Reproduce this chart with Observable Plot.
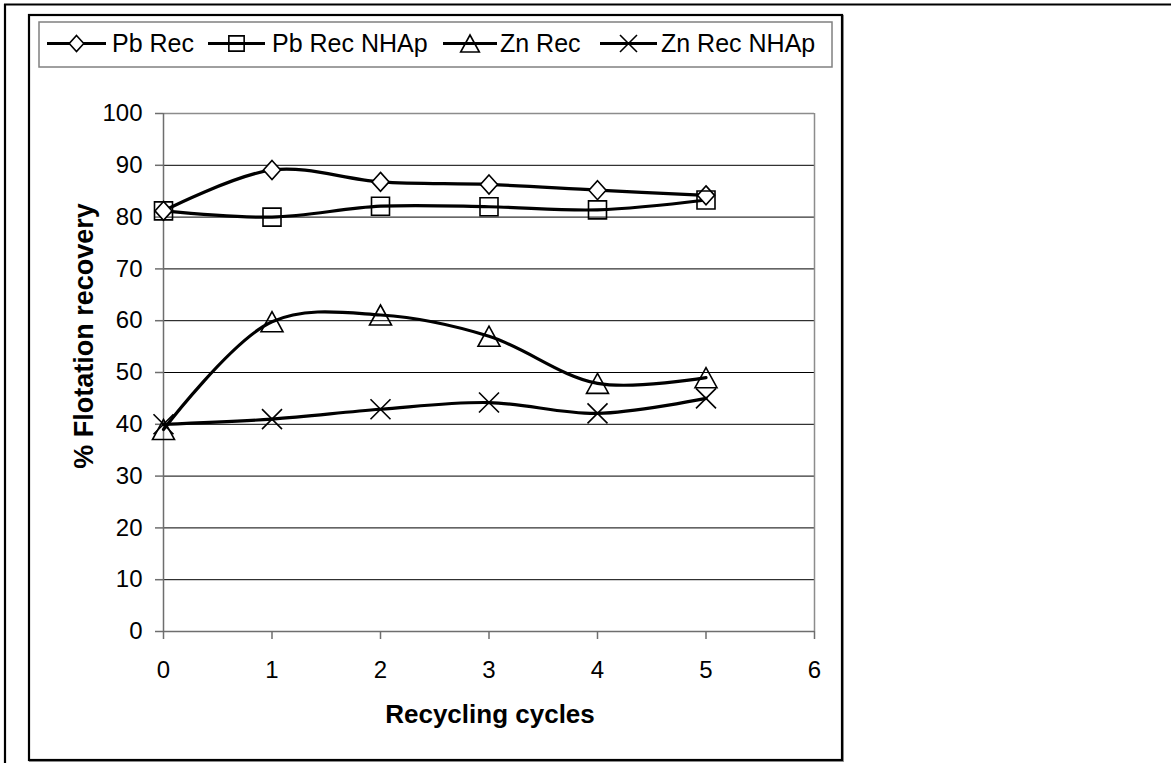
<!DOCTYPE html>
<html>
<head>
<meta charset="utf-8">
<script src="https://cdn.jsdelivr.net/npm/d3@7"></script>
<script src="https://cdn.jsdelivr.net/npm/@observablehq/plot@0.6"></script>
<style>
  body { margin: 0; background: #fff; }
  #chart { position: relative; width: 1176px; height: 763px; }
  #chart svg { display: block; }
</style>
</head>
<body>
<div id="chart"></div>
<script>
// ---- data ----
const cycles = [0, 1, 2, 3, 4, 5];
const pbRec = [81.2, 89.1, 86.8, 86.3, 85.2, 84.2];
const pbRecNHAp = [81.2, 80.0, 82.1, 82.0, 81.4, 83.3];
const znRec = [39.0, 59.8, 61.1, 57.0, 47.9, 49.0];
const znRecNHAp = [40.0, 41.0, 42.9, 44.2, 42.1, 45.0];
const seriesNames = ["Pb Rec", "Pb Rec NHAp", "Zn Rec", "Zn Rec NHAp"];
const xTicks = [0, 1, 2, 3, 4, 5, 6];
const yTicks = [0, 10, 20, 30, 40, 50, 60, 70, 80, 90, 100];
const gridTicks = [10, 20, 30, 40, 50, 60, 70, 80, 90];
const xTitle = "Recycling cycles";
const yTitle = "% Flotation recovery";

(function () {
const seriesValues = [pbRec, pbRecNHAp, znRec, znRecNHAp];
const rows = seriesNames.flatMap((name, s) =>
  cycles.map((c, i) => ({series: name, x: c, y: seriesValues[s][i]})));

// ---- custom marker symbols (size = pi r^2) ----
const rOf = size => Math.sqrt(size / Math.PI);
const diamondSym = {draw(ctx, size) { const r = rOf(size);
  ctx.moveTo(0, -r); ctx.lineTo(r * 0.9, 0); ctx.lineTo(0, r); ctx.lineTo(-r * 0.9, 0); ctx.closePath(); }};
const squareSym = {draw(ctx, size) { const r = rOf(size);
  ctx.moveTo(-r, -r); ctx.lineTo(r, -r); ctx.lineTo(r, r); ctx.lineTo(-r, r); ctx.closePath(); }};
const triangleSym = {draw(ctx, size) { const r = rOf(size); const h = r * 0.91;
  ctx.moveTo(0, -h); ctx.lineTo(r, h); ctx.lineTo(-r, h); ctx.closePath(); }};
const crossSym = {draw(ctx, size) { const r = rOf(size);
  ctx.moveTo(-r, -r); ctx.lineTo(r, r); ctx.moveTo(r, -r); ctx.lineTo(-r, r); }};

const markerStyle = {
  "Pb Rec": {symbol: diamondSym, r: 9.5, fill: "white"},
  "Pb Rec NHAp": {symbol: squareSym, r: 9, fill: "none"},
  "Zn Rec": {symbol: triangleSym, r: 11, fill: "none"},
  "Zn Rec NHAp": {symbol: crossSym, r: 10, fill: "none"}
};

const font = "'Liberation Sans', Arial, Helvetica, sans-serif";

const marks = [
  Plot.gridY(gridTicks, {stroke: "black", strokeOpacity: 1, strokeWidth: 1}),
  Plot.ruleY([100], {stroke: "#8c8c8c", strokeWidth: 1.5}),
  Plot.ruleX([6], {stroke: "#8c8c8c", strokeWidth: 1.5}),
  Plot.ruleY([0], {stroke: "#6e6e6e", strokeWidth: 1.5}),
  Plot.ruleX([0], {stroke: "#6e6e6e", strokeWidth: 1.5}),
  Plot.axisY({ticks: yTicks, tickSize: 8, tickPadding: 13, stroke: "#6e6e6e", strokeWidth: 1.5, fill: "black", label: null, tickFormat: d => String(d)}),
  Plot.axisX({ticks: xTicks, tickSize: 8, tickPadding: 21, stroke: "#6e6e6e", strokeWidth: 1.5, fill: "black", label: null, tickFormat: d => String(d)})
];
for (const name of seriesNames) {
  const data = rows.filter(d => d.series === name);
  marks.push(Plot.line(data, {x: "x", y: "y", curve: "catmull-rom", stroke: "black", strokeWidth: 3.2, strokeLinejoin: "round", strokeLinecap: "round"}));
}
for (const name of seriesNames) {
  const data = rows.filter(d => d.series === name);
  const m = markerStyle[name];
  marks.push(Plot.dot(data, {x: "x", y: "y", symbol: m.symbol, r: m.r, fill: m.fill, stroke: "black", strokeWidth: 1.6}));
}

const chart = Plot.plot({
  width: 1176,
  height: 763,
  marginLeft: 163,
  marginRight: 362,
  marginTop: 113,
  marginBottom: 132,
  x: {domain: [0, 6]},
  y: {domain: [0, 100]},
  style: {fontFamily: font, fontSize: "24px", color: "black", background: "white", overflow: "visible"},
  marks
});

document.getElementById("chart").appendChild(chart);

// ---- decorations: frames, titles, legend ----
const svg = d3.select(chart);
const deco = svg.insert("g", ":first-child");
deco.append("line").attr("x1", 4).attr("x2", 1171).attr("y1", 4.5).attr("y2", 4.5).attr("stroke", "black").attr("stroke-width", 2.2);
deco.append("line").attr("x1", 5).attr("x2", 5).attr("y1", 4).attr("y2", 763).attr("stroke", "black").attr("stroke-width", 2.2);
deco.append("rect").attr("x", 30).attr("y", 16).attr("width", 813).attr("height", 745).attr("fill", "none").attr("stroke", "#999").attr("stroke-width", 2);
deco.append("rect").attr("x", 29).attr("y", 15).attr("width", 813).attr("height", 745).attr("fill", "white").attr("stroke", "black").attr("stroke-width", 2.2);

const titles = svg.append("g").attr("font-family", font).attr("fill", "black");
titles.append("text").attr("x", 490).attr("y", 723).attr("text-anchor", "middle")
  .attr("font-size", 26).attr("font-weight", "bold").text(xTitle);
titles.append("text").attr("transform", "translate(86,336) rotate(-90)").attr("text-anchor", "middle")
  .attr("dominant-baseline", "middle").attr("font-size", 27).attr("font-weight", "bold").text(yTitle);

// legend
const lg = svg.append("g").attr("font-family", font).attr("text-anchor", "start");
lg.append("rect").attr("x", 39).attr("y", 22).attr("width", 793).attr("height", 45)
  .attr("fill", "white").attr("stroke", "#808080").attr("stroke-width", 1.5);
const legendLayout = [
  {x0: 47, x1: 106, tx: 112},
  {x0: 208, x1: 265, tx: 272},
  {x0: 443, x1: 497, tx: 500},
  {x0: 600, x1: 657, tx: 661}
];
const ly = 43.5;
seriesNames.forEach((name, i) => {
  const L = legendLayout[i], m = markerStyle[name];
  lg.append("line").attr("x1", L.x0).attr("x2", L.x1).attr("y1", ly).attr("y2", ly)
    .attr("stroke", "black").attr("stroke-width", 3.2);
  const size = Math.PI * (m.r * 0.85) ** 2;
  const p = d3.path(); m.symbol.draw(p, size);
  lg.append("path").attr("d", p.toString()).attr("transform", `translate(${(L.x0 + L.x1) / 2},${ly})`)
    .attr("fill", m.fill).attr("stroke", "black").attr("stroke-width", 1.6);
  lg.append("text").attr("x", L.tx).attr("y", ly).attr("dy", "0.35em").attr("text-anchor", "start")
    .attr("font-size", 25).attr("fill", "black").text(name);
});
})();
</script>
</body>
</html>
